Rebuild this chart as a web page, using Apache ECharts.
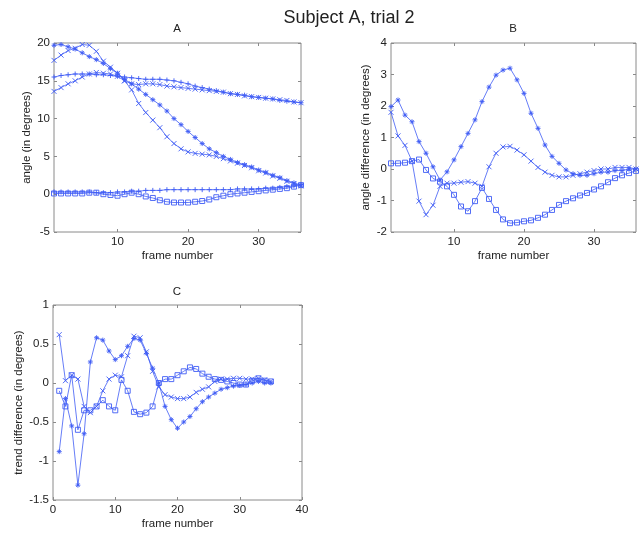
<!DOCTYPE html>
<html>
<head>
<meta charset="utf-8">
<script src="https://cdn.jsdelivr.net/npm/echarts@6/dist/echarts.min.js"></script>
<style>html,body{margin:0;padding:0;background:#fff}#c{width:644px;height:533px}</style>
</head>
<body>
<div id="c"></div>
<script>
// ---------- data ----------
const framesAB = [1,2,3,4,5,6,7,8,9,10,11,12,13,14,15,16,17,18,19,20,21,22,23,24,25,26,27,28,29,30,31,32,33,34,35,36];
const framesC = [1,2,3,4,5,6,7,8,9,10,11,12,13,14,15,16,17,18,19,20,21,22,23,24,25,26,27,28,29,30,31,32,33,34,35];

// Panel A: angle (in degrees)
const angleA1 = [19.7,19.8,19.5,19.2,18.7,18.2,17.8,17.3,16.6,16.0,15.2,14.6,13.9,13.2,12.5,11.8,11.0,10.0,9.2,8.3,7.5,6.7,6.0,5.5,5.0,4.6,4.2,3.9,3.6,3.2,2.9,2.5,2.2,1.8,1.5,1.2];
const angleA2 = [17.7,18.4,19.0,19.3,19.8,19.7,18.9,17.6,16.8,16.0,15.0,13.8,12.0,10.8,9.8,8.8,7.6,6.7,6.0,5.6,5.4,5.3,5.2,5.0,4.7,4.4,4.1,3.8,3.5,3.1,2.8,2.4,2.1,1.7,1.4,1.1];
const angleA3 = [15.5,15.7,15.8,15.9,15.9,15.9,15.8,15.8,15.7,15.6,15.5,15.4,15.3,15.2,15.2,15.2,15.1,15.0,14.8,14.6,14.3,14.1,13.9,13.7,13.5,13.3,13.2,13.1,12.9,12.8,12.7,12.6,12.4,12.3,12.2,12.1];
const angleA4 = [13.6,14.1,14.6,15.0,15.5,15.9,16.1,16.0,15.9,15.6,15.0,14.6,14.5,14.6,14.6,14.5,14.3,14.2,14.1,14.0,13.9,13.8,13.7,13.6,13.5,13.3,13.2,13.0,12.9,12.8,12.7,12.6,12.5,12.4,12.2,12.1];
const angleA5 = [0.3,0.3,0.3,0.3,0.3,0.3,0.2,0.2,0.2,0.3,0.3,0.4,0.4,0.5,0.5,0.5,0.6,0.6,0.6,0.6,0.6,0.6,0.6,0.6,0.6,0.6,0.7,0.7,0.7,0.7,0.8,0.8,0.9,1.0,1.1,1.3];
const angleA6 = [0.1,0.1,0.1,0.1,0.1,0.2,0.2,0.0,-0.1,-0.2,0.0,0.2,0.0,-0.3,-0.5,-0.8,-1.0,-1.1,-1.1,-1.1,-1.0,-0.9,-0.7,-0.4,-0.2,0.0,0.1,0.2,0.3,0.4,0.5,0.6,0.7,0.8,1.0,1.2];

// Panel B: angle difference (in degrees)
const diffB1 = [1.98,2.19,1.71,1.5,0.87,0.5,0.07,-0.35,-0.09,0.29,0.71,1.13,1.56,2.14,2.6,2.98,3.14,3.2,2.83,2.4,1.77,1.29,0.76,0.4,0.18,-0.03,-0.15,-0.2,-0.2,-0.15,-0.1,-0.1,-0.05,-0.05,0.0,0.0];
const diffB2 = [1.8,1.05,0.75,0.25,-1.02,-1.45,-1.15,-0.55,-0.45,-0.45,-0.42,-0.4,-0.45,-0.55,0.07,0.5,0.7,0.72,0.6,0.45,0.25,0.05,-0.1,-0.2,-0.25,-0.25,-0.2,-0.15,-0.1,-0.05,0.0,0.0,0.05,0.05,0.05,0.0];
const diffB3 = [0.18,0.18,0.2,0.25,0.3,-0.03,-0.3,-0.4,-0.55,-0.82,-1.19,-1.34,-1.02,-0.6,-0.95,-1.3,-1.6,-1.72,-1.7,-1.66,-1.63,-1.55,-1.45,-1.3,-1.14,-1.02,-0.93,-0.84,-0.76,-0.65,-0.55,-0.42,-0.29,-0.2,-0.13,-0.06];

// Panel C: trend difference (in degrees)
const trendC1 = [-0.88,-0.2,-0.55,-1.31,-0.65,0.27,0.58,0.55,0.41,0.3,0.35,0.47,0.57,0.55,0.38,0.19,0.0,-0.3,-0.47,-0.58,-0.5,-0.43,-0.33,-0.24,-0.18,-0.13,-0.08,-0.06,-0.04,-0.03,-0.02,0.0,0.02,0.0,0.0];
const trendC2 = [0.62,0.03,0.1,0.05,-0.3,-0.38,-0.3,-0.1,0.05,0.1,0.08,0.35,0.6,0.58,0.4,0.15,-0.05,-0.15,-0.18,-0.2,-0.2,-0.18,-0.12,-0.08,-0.05,0.02,0.05,0.05,0.06,0.06,0.05,0.05,0.06,0.04,0.02];
const trendC3 = [-0.1,-0.3,0.1,-0.6,-0.35,-0.35,-0.3,-0.22,-0.3,-0.35,0.04,-0.1,-0.37,-0.4,-0.38,-0.3,0.0,0.05,0.05,0.1,0.15,0.2,0.18,0.12,0.08,0.05,0.04,0.02,0.0,-0.02,-0.02,0.03,0.06,0.03,0.02];

const xTicksAB = [10,20,30];

// ---------- styling ----------
const FONT = 'Liberation Sans, Arial, sans-serif';
const BLUE = '#3f5cf5';
const FRAME = '#8a8a8a';
const SYM = {
  star: 'path://M5,0L5,10M0,5L10,5M1.5,1.5L8.5,8.5M8.5,1.5L1.5,8.5',
  x: 'path://M0,0L10,10M10,0L0,10',
  plus: 'path://M5,0L5,10M0,5L10,5',
  sq: 'path://M0,0L10,0L10,10L0,10Z'
};

function pairs(xs, ys) { return xs.map((x, i) => [x, ys[i]]); }

function mkSeries(xs, ys, sym, gi) {
  return {
    type: 'line', xAxisIndex: gi * 2, yAxisIndex: gi * 2,
    data: pairs(xs, ys),
    symbol: SYM[sym], symbolSize: 5, showSymbol: true,
    lineStyle: { color: BLUE, width: 0.8 },
    itemStyle: { color: 'rgba(0,0,0,0)', borderColor: BLUE, borderWidth: 0.9 },
    emphasis: { disabled: true }, silent: true, clip: true, z: 3
  };
}

const grids = [
  { left: 54, top: 43, width: 247, height: 189 },
  { left: 391, top: 43, width: 245, height: 189 },
  { left: 53, top: 305, width: 249, height: 195 }
];

const axisCfg = [
  { x: { min: 1, max: 36, custom: xTicksAB }, y: { min: -5, max: 20, interval: 5 }, yName: 'angle (in degrees)', yGap: 21 },
  { x: { min: 1, max: 36, custom: xTicksAB }, y: { min: -2, max: 4, interval: 1 }, yName: 'angle difference (in degrees)', yGap: 19 },
  { x: { min: 0, max: 40, interval: 10 }, y: { min: -1.5, max: 1, interval: 0.5 }, yName: 'trend difference (in degrees)', yGap: 28 }
];

const FS = 11.5;
const labelStyle = { color: '#222', fontSize: FS, fontFamily: FONT };
const xAxes = [], yAxes = [];
axisCfg.forEach((c, gi) => {
  const xBase = { type: 'value', gridIndex: gi, min: c.x.min, max: c.x.max,
    splitLine: { show: false }, axisLine: { show: false, onZero: false } };
  if (c.x.interval) xBase.interval = c.x.interval;
  const tickMain = { show: true, inside: true, length: 3, lineStyle: { color: FRAME, width: 1 } };
  if (c.x.custom) tickMain.customValues = c.x.custom;
  const lblMain = Object.assign({ show: true, margin: 4 }, labelStyle);
  if (c.x.custom) lblMain.customValues = c.x.custom;
  xAxes.push(Object.assign({}, xBase, { position: 'bottom', axisTick: tickMain, axisLabel: lblMain,
    name: 'frame number', nameLocation: 'middle', nameGap: 18,
    nameTextStyle: { color: '#222', fontSize: FS, fontFamily: FONT } }));
  xAxes.push(Object.assign({}, xBase, { position: 'top', axisTick: Object.assign({}, tickMain), axisLabel: { show: false } }));

  const yBase = { type: 'value', gridIndex: gi, min: c.y.min, max: c.y.max, interval: c.y.interval,
    splitLine: { show: false }, axisLine: { show: false, onZero: false } };
  const yTick = { show: true, inside: true, length: 3, lineStyle: { color: FRAME, width: 1 } };
  yAxes.push(Object.assign({}, yBase, { position: 'left', axisTick: yTick,
    axisLabel: Object.assign({ show: true, margin: 4 }, labelStyle),
    name: c.yName, nameLocation: 'middle', nameGap: c.yGap, nameRotate: 90,
    nameTextStyle: { color: '#222', fontSize: FS, fontFamily: FONT } }));
  yAxes.push(Object.assign({}, yBase, { position: 'right', axisTick: Object.assign({}, yTick), axisLabel: { show: false } }));
});

const series = [
  mkSeries(framesAB, angleA1, 'star', 0),
  mkSeries(framesAB, angleA2, 'x', 0),
  mkSeries(framesAB, angleA3, 'plus', 0),
  mkSeries(framesAB, angleA4, 'x', 0),
  mkSeries(framesAB, angleA5, 'plus', 0),
  mkSeries(framesAB, angleA6, 'sq', 0),
  mkSeries(framesAB, diffB1, 'star', 1),
  mkSeries(framesAB, diffB2, 'x', 1),
  mkSeries(framesAB, diffB3, 'sq', 1),
  mkSeries(framesC, trendC1, 'star', 2),
  mkSeries(framesC, trendC2, 'x', 2),
  mkSeries(framesC, trendC3, 'sq', 2)
];

function txt(t, x, y, size) {
  return { type: 'text', x: x, y: y, silent: true,
    style: { text: t, fill: '#222', font: size + 'px ' + FONT, textAlign: 'center', textVerticalAlign: 'middle' } };
}

const chart = echarts.init(document.getElementById('c'), null, { renderer: 'canvas' });
chart.setOption({
  animation: false,
  backgroundColor: '#fff',
  grid: grids.map(g => Object.assign({ show: true, borderColor: FRAME, borderWidth: 1, backgroundColor: '#fff', containLabel: false }, g)),
  xAxis: xAxes,
  yAxis: yAxes,
  series: series,
  graphic: [
    txt('Subject A, trial 2', 349, 18, 18),
    txt('A', 177, 29, 11.5),
    txt('B', 513, 29, 11.5),
    txt('C', 177, 292, 11.5)
  ]
});
</script>
</body>
</html>
